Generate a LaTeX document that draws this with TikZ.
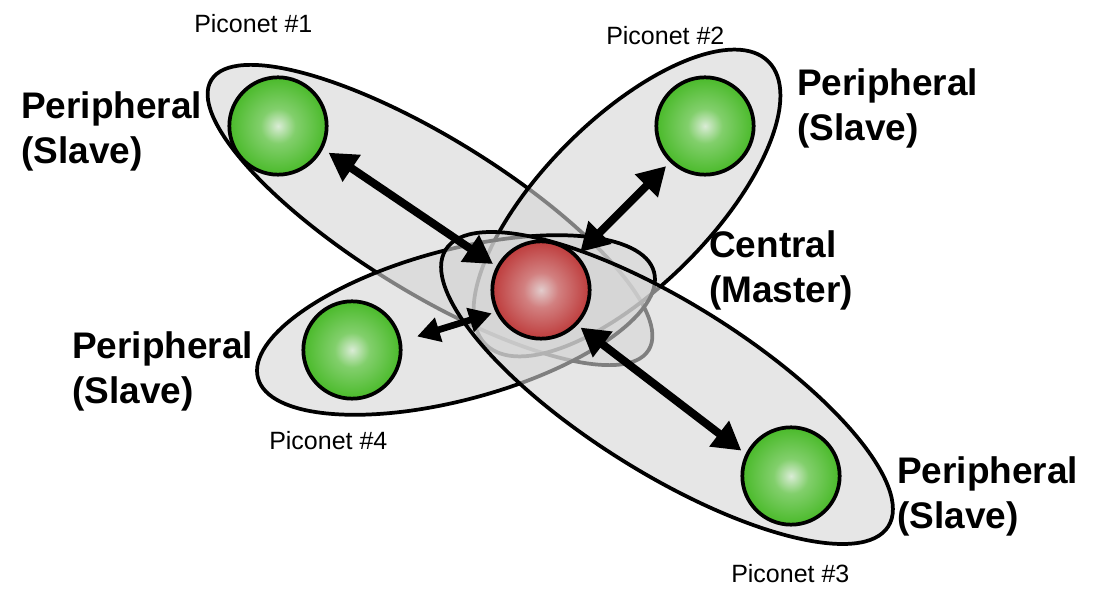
\documentclass[tikz,border=0pt]{standalone}
\usepackage{fontspec}
\setmainfont{Liberation Sans}
\usetikzlibrary{arrows.meta}
\definecolor{gin}{RGB}{218,236,214}
\definecolor{gmid}{RGB}{130,207,108}
\definecolor{gout}{RGB}{74,186,42}
\definecolor{rin}{RGB}{226,204,204}
\definecolor{rmid}{RGB}{210,128,128}
\definecolor{rout}{RGB}{190,60,60}
\definecolor{piconetfill}{RGB}{213,213,213}
\pgfdeclareradialshading{greenball}{\pgfpoint{0bp}{0bp}}{color(0bp)=(gin); color(9bp)=(gmid); color(25bp)=(gout); color(50bp)=(gout)}
\pgfdeclareradialshading{redball}{\pgfpoint{0bp}{0bp}}{color(0bp)=(rin); color(9bp)=(rmid); color(25bp)=(rout); color(50bp)=(rout)}
\begin{document}
\begin{tikzpicture}[x=0.75pt,y=-0.75pt,
  piconet/.style={draw=black, line width=2.8pt, fill=piconetfill, fill opacity=0.6},
  ball/.style={circle, draw=black, line width=2.8pt, minimum size=73pt, inner sep=0pt},
  slave/.style={ball, shading=greenball},
  master/.style={ball, shading=redball},
  link/.style={line width=6pt, {Triangle[length=21pt,width=23pt]}-{Triangle[length=21pt,width=23pt]}},
  smalllink/.style={line width=5pt, {Triangle[length=17pt,width=18pt]}-{Triangle[length=17pt,width=18pt]}},
  big/.style={font=\bfseries\fontsize{27.75}{33.75}\selectfont, align=left, inner sep=0pt, anchor=north west},
  small/.style={font=\fontsize{18.75}{22}\selectfont, inner sep=0pt, anchor=base west}
]
\useasboundingbox (0,0) rectangle (1115,598);
% piconet ellipses
\draw[piconet, rotate around={-31.7:(430,215)}] (430,215) ellipse [x radius=257, y radius=77];
\draw[piconet, rotate around={45:(627,203)}] (627,203) ellipse [x radius=200, y radius=84];
\draw[piconet, rotate around={15:(456,325)}] (456,325) ellipse [x radius=205, y radius=75];
\draw[piconet, rotate around={-32:(667,388)}] (667,388) ellipse [x radius=261, y radius=85];
% devices
\node[slave] (s1) at (278,126) {};
\node[slave] (s2) at (705,126) {};
\node[slave] (s3) at (791,476) {};
\node[slave] (s4) at (352,350) {};
\node[master] (m) at (541,290) {};
% links
\draw[link, shorten <=5pt, shorten >=3pt] (s1.-27) -- (m.152);
\draw[link, shorten <=3pt, shorten >=4pt] (m.44) -- (s2.-134);
\draw[link, shorten <=3pt, shorten >=4pt] (m.-44) -- (s3.154);
\draw[smalllink, shorten <=3pt, shorten >=12pt] (m.-154) -- (s4.10);
% labels
\node[big] (l1) at (21,91) {Peripheral\\(Slave)};
\node[big] (l2) at (797,68) {Peripheral\\(Slave)};
\node[big] (lc) at (709,230) {Central\\(Master)};
\node[big] (l4) at (72,331) {Peripheral\\(Slave)};
\node[big] (l3) at (897,456) {Peripheral\\(Slave)};
\node[small] (p1) at (194,33) {Piconet \#1};
\node[small] (p2) at (606,45) {Piconet \#2};
\node[small] (p3) at (731,583) {Piconet \#3};
\node[small] (p4) at (269,450) {Piconet \#4};
\end{tikzpicture}
\end{document}
